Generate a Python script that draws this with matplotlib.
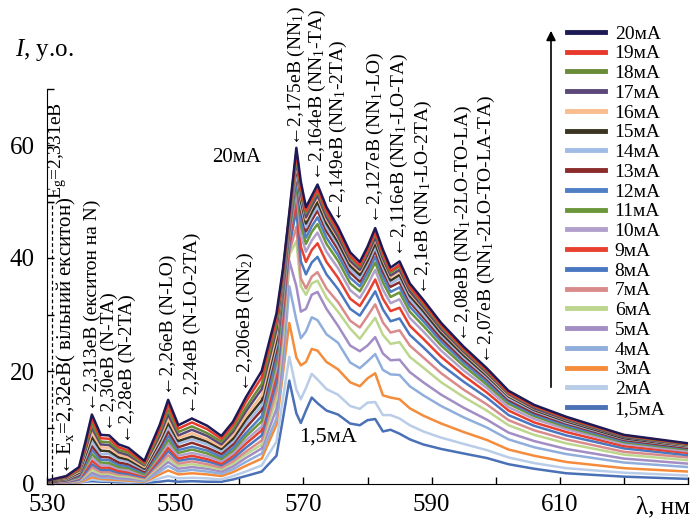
import matplotlib
matplotlib.use("Agg")
import matplotlib.pyplot as plt
from matplotlib.lines import Line2D

plt.rcParams['font.family'] = ['Liberation Serif', 'DejaVu Serif']
plt.rcParams['mathtext.fontset'] = 'custom'
plt.rcParams['mathtext.rm'] = 'Liberation Serif'
plt.rcParams['mathtext.it'] = 'Liberation Serif:italic'
plt.rcParams['mathtext.bf'] = 'Liberation Serif:bold'

# wavelength grid, nm
wavelength = [530, 533, 535, 536, 537, 538.4, 539.7, 541.2, 542.7, 545.2,
              547.6, 548.9, 550.5, 552.6, 555, 557.2,
              559, 561, 563.5, 565.8, 566.8, 567.8, 568.9, 569.6, 570.4, 571.3,
              572.2, 573.6, 575.4, 577.3,
              578.8, 580, 581.2, 582.4, 583.6, 585, 586.6, 588.7, 591.5, 595,
              598.6, 602, 606, 611, 620, 630]

# intensity (arb. units) for each current
mA1_5 = [0.2, 0.2, 0.3, 0.4, 0.5, 0.4, 0.4, 0.3, 0.3, 0.2,
         0.4, 0.6, 0.4, 0.5, 0.4, 0.4,
         0.8, 1.4, 2.2, 5.0, 11.5, 18.3, 12.5, 10.8, 13.0, 15.3, 14.3, 13.0, 12.3, 10.7,
         10.4, 11.3, 11.5, 9.3, 9.6, 8.9, 7.9, 7.0, 6.2, 5.4,
         4.6, 3.5, 2.7, 1.9, 1.3, 0.9]
mA2 = [0.2, 0.2, 0.3, 0.5, 0.8, 0.6, 0.6, 0.5, 0.4, 0.3,
       1.0, 1.4, 1.0, 1.1, 1.0, 0.8,
       1.4, 2.2, 3.3, 7.5, 15.0, 22.5, 16.7, 15.0, 17.0, 19.5, 18.5, 16.8, 15.8, 13.8,
       13.3, 14.4, 14.5, 12.2, 12.2, 11.6, 10.4, 9.3, 8.2, 7.1,
       6.0, 4.7, 3.7, 2.8, 2.0, 1.5]
mA3 = [0.2, 0.2, 0.3, 0.7, 1.2, 0.9, 0.8, 0.7, 0.6, 0.4,
       1.7, 2.4, 1.7, 1.9, 1.7, 1.4,
       2.1, 3.2, 4.5, 10.5, 19.5, 28.5, 22.4, 21.0, 21.6, 23.9, 23.6, 21.6, 20.3, 18.0,
       17.3, 18.7, 19.6, 15.7, 15.3, 15.0, 13.4, 12.1, 10.7, 9.2,
       7.8, 6.1, 5.0, 3.9, 2.8, 2.2]
mA4 = [0.2, 0.2, 0.4, 1.0, 1.6, 1.1, 1.1, 0.9, 0.8, 0.5,
       2.2, 3.2, 2.2, 2.5, 2.2, 1.8,
       2.6, 3.9, 5.4, 11.6, 20.5, 35.0, 29.0, 25.8, 27.0, 29.5, 29.0, 26.5, 25.0, 21.5,
       20.5, 21.7, 23.0, 20.2, 19.4, 19.3, 17.3, 15.7, 13.8, 11.8,
       10.0, 7.9, 6.5, 5.3, 3.8, 3.0]
mA5 = [0.2, 0.2, 0.5, 1.2, 2.0, 1.4, 1.4, 1.1, 1.0, 0.7,
       2.7, 3.9, 2.7, 3.0, 2.7, 2.2,
       3.1, 4.6, 6.3, 13.3, 22.9, 39.5, 35.0, 30.5, 31.0, 33.5, 34.0, 31.0, 28.0, 24.5,
       23.5, 24.5, 26.0, 23.1, 21.9, 22.0, 19.8, 18.0, 15.8, 13.5,
       11.4, 9.1, 7.6, 6.2, 4.5, 3.6]
mA6 = [0.2, 0.3, 0.6, 1.5, 2.5, 1.8, 1.8, 1.4, 1.3, 0.8,
       3.2, 4.5, 3.2, 3.5, 3.1, 2.6,
       3.6, 5.2, 7.0, 15.1, 25.5, 40.5, 43.0, 35.0, 33.5, 35.5, 36.0, 33.0, 30.5, 27.5,
       25.7, 27.6, 29.4, 26.4, 24.8, 25.1, 22.5, 20.6, 18.0, 15.4,
       13.0, 10.4, 8.7, 7.2, 5.2, 4.2]
mA7 = [0.2, 0.3, 0.7, 1.8, 3.0, 2.1, 2.1, 1.7, 1.6, 1.0,
       3.6, 5.1, 3.6, 4.0, 3.5, 2.9,
       4.0, 5.7, 7.7, 16.5, 27.4, 41.0, 45.5, 36.4, 34.6, 36.7, 37.5, 34.6, 32.2, 28.9,
       27.7, 29.7, 31.8, 28.6, 26.8, 27.2, 24.5, 22.4, 19.6, 16.7,
       14.1, 11.3, 9.5, 7.9, 5.7, 4.7]
mA8 = [0.2, 0.4, 0.8, 2.1, 3.5, 2.5, 2.5, 2.0, 1.8, 1.2,
       4.1, 5.8, 4.1, 4.5, 4.0, 3.3,
       4.5, 6.4, 8.6, 18.0, 29.3, 42.0, 48.5, 39.4, 37.1, 39.2, 40.2, 37.1, 34.5, 31.0,
       29.8, 31.9, 34.1, 30.9, 28.8, 29.3, 26.4, 24.2, 21.1, 18.1,
       15.3, 12.2, 10.3, 8.6, 6.3, 5.1]
mA9 = [0.2, 0.5, 1.0, 2.5, 4.1, 2.9, 2.9, 2.3, 2.1, 1.4,
       4.5, 6.4, 4.5, 5.0, 4.4, 3.6,
       5.0, 7.1, 9.5, 19.4, 30.8, 43.0, 50.5, 42.0, 39.3, 41.4, 42.6, 39.3, 36.5, 32.8,
       31.5, 33.7, 36.2, 32.8, 30.6, 31.2, 28.0, 25.7, 22.5, 19.2,
       16.2, 13.0, 10.9, 9.2, 6.7, 5.5]
mA10 = [0.2, 0.5, 1.1, 2.9, 4.7, 3.3, 3.3, 2.7, 2.4, 1.6,
        5.0, 7.1, 5.0, 5.5, 4.9, 4.0,
        5.4, 7.7, 10.2, 20.5, 32.2, 44.0, 52.0, 44.1, 41.1, 43.1, 44.5, 41.1, 38.2, 34.3,
        32.9, 35.2, 37.9, 34.4, 32.0, 32.7, 29.4, 27.0, 23.6, 20.1,
        17.0, 13.6, 11.5, 9.7, 7.1, 5.8]
mA11 = [0.3, 0.6, 1.3, 3.2, 5.3, 3.8, 3.7, 3.0, 2.8, 1.7,
        5.5, 7.8, 5.5, 6.1, 5.4, 4.4,
        5.9, 8.4, 11.1, 21.6, 33.2, 44.5, 53.0, 45.8, 42.5, 44.6, 46.0, 42.5, 39.5, 35.5,
        34.1, 36.5, 39.2, 35.7, 33.1, 33.9, 30.5, 28.0, 24.5, 20.9,
        17.6, 14.2, 12.0, 10.1, 7.4, 6.1]
mA12 = [0.3, 0.7, 1.4, 3.7, 6.0, 4.3, 4.2, 3.4, 3.1, 2.0,
        6.0, 8.5, 6.0, 6.6, 5.9, 4.8,
        6.4, 9.0, 12.0, 22.6, 34.0, 45.0, 54.0, 47.1, 43.6, 45.6, 47.2, 43.6, 40.5, 36.5,
        35.0, 37.4, 40.2, 36.7, 34.0, 34.8, 31.4, 28.8, 25.2, 21.5,
        18.1, 14.6, 12.3, 10.4, 7.6, 6.3]
mA13 = [0.3, 0.7, 1.6, 4.1, 6.7, 4.8, 4.7, 3.8, 3.5, 2.2,
        6.5, 9.3, 6.5, 7.3, 6.4, 5.3,
        7.0, 9.9, 13.1, 23.8, 34.8, 45.5, 55.0, 48.4, 44.7, 46.7, 48.4, 44.7, 41.5, 37.4,
        35.8, 38.3, 41.2, 37.6, 34.9, 35.7, 32.2, 29.5, 25.8, 22.0,
        18.6, 14.9, 12.6, 10.7, 7.8, 6.4]
mA14 = [0.4, 0.8, 1.8, 4.6, 7.5, 5.3, 5.3, 4.3, 3.9, 2.5,
        7.1, 10.1, 7.1, 7.9, 7.0, 5.8,
        7.5, 10.6, 13.9, 24.7, 35.4, 46.0, 55.5, 49.2, 45.4, 47.4, 49.1, 45.4, 42.2, 38.0,
        36.4, 38.9, 41.9, 38.3, 35.4, 36.4, 32.7, 30.0, 26.3, 22.4,
        18.9, 15.2, 12.9, 10.9, 8.0, 6.6]
mA15 = [0.4, 0.9, 2.0, 5.1, 8.3, 5.9, 5.8, 4.7, 4.3, 2.7,
        7.6, 10.8, 7.6, 8.4, 7.5, 6.2,
        8.0, 11.3, 14.8, 25.5, 35.9, 46.3, 56.5, 50.1, 46.1, 48.1, 49.9, 46.1, 42.8, 38.6,
        37.0, 39.5, 42.6, 38.9, 36.0, 37.0, 33.3, 30.6, 26.7, 22.8,
        19.2, 15.5, 13.1, 11.1, 8.1, 6.7]
mA16 = [0.5, 1.0, 2.2, 5.6, 9.1, 6.5, 6.4, 5.2, 4.7, 3.0,
        8.1, 11.5, 8.1, 9.0, 7.9, 6.6,
        8.6, 12.0, 15.7, 26.4, 36.4, 46.6, 57.0, 50.9, 46.8, 48.9, 50.7, 46.8, 43.5, 39.2,
        37.6, 40.2, 43.3, 39.6, 36.6, 37.6, 33.8, 31.1, 27.2, 23.2,
        19.5, 15.7, 13.3, 11.3, 8.3, 6.8]
mA17 = [0.5, 1.1, 2.4, 6.0, 9.9, 7.0, 6.9, 5.6, 5.1, 3.3,
        8.6, 12.3, 8.6, 9.6, 8.5, 7.0,
        9.2, 12.8, 16.8, 27.3, 36.7, 47.0, 57.5, 51.4, 47.2, 49.2, 51.1, 47.2, 43.8, 39.5,
        37.9, 40.5, 43.6, 39.9, 36.9, 37.9, 34.1, 31.3, 27.4, 23.4,
        19.7, 15.9, 13.4, 11.4, 8.3, 6.9]
mA18 = [0.5, 1.2, 2.5, 6.5, 10.6, 7.5, 7.4, 6.0, 5.5, 3.5,
        9.2, 13.1, 9.2, 10.2, 9.0, 7.5,
        9.7, 13.5, 17.7, 28.2, 37.2, 47.3, 58.0, 52.2, 47.9, 49.9, 51.8, 47.9, 44.5, 40.1,
        38.4, 41.1, 44.3, 40.5, 37.4, 38.5, 34.7, 31.8, 27.8, 23.7,
        20.0, 16.1, 13.7, 11.6, 8.5, 7.0]
mA19 = [0.6, 1.3, 2.7, 7.0, 11.4, 8.1, 8.0, 6.5, 5.9, 3.8,
        9.8, 14.0, 9.8, 10.9, 9.7, 8.0,
        10.4, 14.5, 18.9, 29.2, 37.5, 47.6, 58.7, 52.6, 48.3, 50.3, 52.2, 48.3, 44.8, 40.4,
        38.7, 41.4, 44.6, 40.9, 37.7, 38.8, 34.9, 32.1, 28.1, 23.9,
        20.2, 16.2, 13.8, 11.7, 8.6, 7.1]
mA20 = [0.6, 1.4, 3.0, 7.5, 12.3, 8.7, 8.6, 7.0, 6.4, 4.1,
        10.5, 14.9, 10.4, 11.6, 10.3, 8.5,
        11.0, 15.3, 20.0, 30.2, 38.0, 48.0, 59.5, 53.5, 49.0, 51.0, 53.0, 49.0, 45.5, 41.0,
        39.3, 42.0, 45.3, 41.5, 38.3, 39.4, 35.5, 32.6, 28.5, 24.3,
        20.5, 16.5, 14.0, 11.9, 8.7, 7.2]

series = [mA1_5, mA2, mA3, mA4, mA5, mA6, mA7, mA8, mA9, mA10,
          mA11, mA12, mA13, mA14, mA15, mA16, mA17, mA18, mA19, mA20]
currents = ['1,5мА', '2мА', '3мА', '4мА', '5мА', '6мА', '7мА', '8мА', '9мА', '10мА',
            '11мА', '12мА', '13мА', '14мА', '15мА', '16мА', '17мА', '18мА', '19мА', '20мА']
colors = ['#4a70b6', '#b9cde8', '#f48c3c', '#90aedb', '#a28dc4', '#bdd68e', '#d98b8c',
          '#4a78c0', '#e8402f', '#b2a0cc', '#6c963a', '#4f7fc4', '#8b2b2b', '#a0bce6',
          '#3a3420', '#f9bc8e', '#5a4878', '#6a8c38', '#e83a2c', '#1d1a55']

# arrow labels for the lines
peak_x = [537.0, 539.7, 542.6, 548.9, 552.6, 561.0, 568.9, 572.2, 575.4,
          581.2, 585.0, 588.7, 595.0, 598.6]
peak_y = [13.0, 9.4, 7.2, 15.7, 12.4, 16.2, 59.9, 53.6, 46.3,
          46.1, 40.2, 33.4, 25.1, 21.3]
peak_text = ['2,313еВ (екситон на N)', '2,30еВ (N-TA)', '2,28еВ (N-2TA)',
             '2,26еВ (N-LO)', '2,24еВ (N-LO-2TA)', '2,206еВ (NN$_2$)',
             '2,175еВ (NN$_1$)', '2,164еВ (NN$_1$-TA)', '2,149еВ (NN$_1$-2TA)',
             '2,127еВ (NN$_1$-LO)', '2,116еВ (NN$_1$-LO-TA)', '2,1еВ (NN$_1$-LO-2TA)',
             '2,08еВ (NN$_1$-2LO-TO-LA)', '2,07еВ (NN$_1$-2LO-TO-LA-TA)']

fig = plt.figure(figsize=(7, 5.23), dpi=100)
ax = fig.add_axes([47 / 700, 39 / 523, 641 / 700, 395.5 / 523])

for vals, col in zip(series, colors):
    ax.plot(wavelength, vals, color=col, lw=1.8, solid_joinstyle='round')

ax.set_xlim(530, 630)
ax.set_ylim(0, 70)
ax.set_xticks([530, 550, 570, 590, 610])
ax.set_xticks(range(530, 631, 10), minor=True)
ax.set_yticks([0, 20, 40, 60])
ax.set_yticks(range(0, 71, 10), minor=True)
ax.tick_params(which='both', direction='in', length=5, width=1, labelsize=18)
ax.tick_params(axis='x', pad=7)
ax.tick_params(axis='y', pad=9)
for s in ['top', 'right']:
    ax.spines[s].set_visible(False)

# E_g and E_x marks
ax.plot([530.8, 530.8], [0, 50], 'k--', lw=0.9, dashes=(3, 2))
ax.plot([530, 530.9], [50, 50], 'k-', lw=0.9)
ax.text(531.7, 50.5, 'E$_\\mathrm{g}$=2,331еВ', rotation=90, ha='center', va='bottom',
        fontsize=14)
ax.text(533.0, 1.6, '←E$_\\mathrm{x}$=2,32еВ( вільний екситон)', rotation=90,
        ha='center', va='bottom', fontsize=15)

for x, y, t in zip(peak_x, peak_y, peak_text):
    ax.text(x, y, '←' + t, rotation=90, ha='center', va='bottom', fontsize=14)

ax.text(559.6, 57.7, '20мА', ha='center', va='center', fontsize=15)
ax.text(573.8, 8.3, '1,5мА', ha='center', va='center', fontsize=16)

fig.text(15 / 700, 1 - 50 / 523, '$I$, у.о.', ha='left', va='center', fontsize=18)
fig.text(663 / 700, 1 - 507 / 523, 'λ, нм', ha='center', va='center', fontsize=18)

handles = [Line2D([0], [0], color=c, lw=3.5) for c in colors[::-1]]
fig.legend(handles, currents[::-1], loc='upper left',
           bbox_to_anchor=(567 / 700, 1 - 25 / 523), frameon=False,
           borderpad=0, borderaxespad=0, handlelength=1.95, handletextpad=0.5,
           labelspacing=0.11, fontsize=14)

ax.annotate('', xy=(551 / 700, 1 - 28 / 523), xytext=(551 / 700, 1 - 390 / 523),
            xycoords='figure fraction', textcoords='figure fraction',
            arrowprops=dict(arrowstyle='-|>', color='black', lw=1.2, mutation_scale=14))

fig.savefig('out.png', dpi=100)
